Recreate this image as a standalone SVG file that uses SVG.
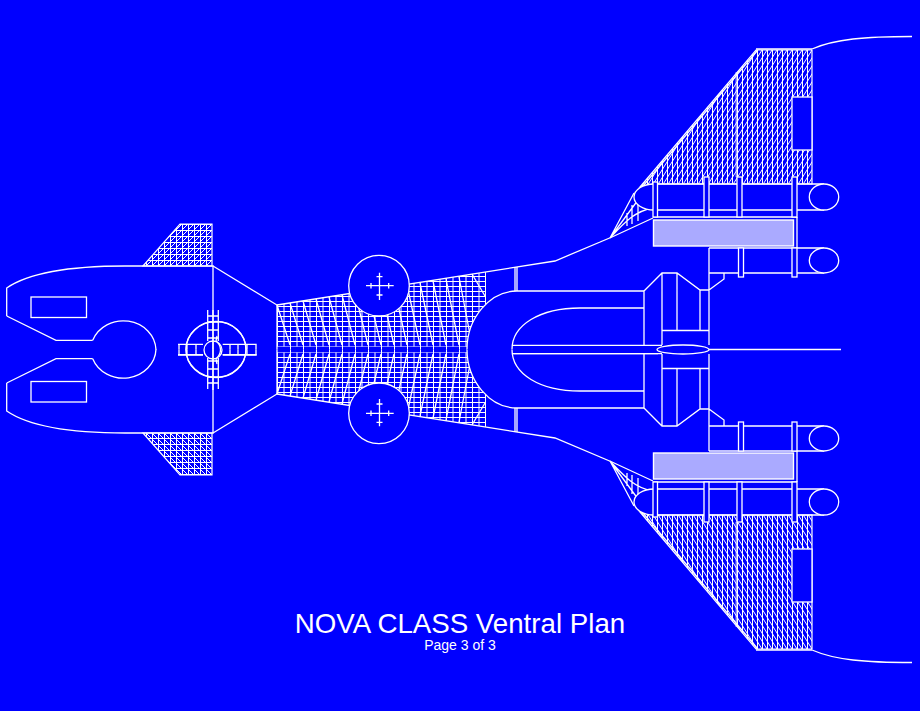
<svg xmlns="http://www.w3.org/2000/svg" width="920" height="711" viewBox="0 0 920 711">
<style>
.l{fill:none;stroke:#fff;stroke-width:1.3}
.b{fill:#00f;stroke:#fff;stroke-width:1.3}
.f{fill:#aaaaff;stroke:#fff;stroke-width:1.4}
.g{fill:none;stroke:#fff;stroke-width:1}
.t{fill:#fff;font-family:"Liberation Sans",Arial,sans-serif;text-anchor:middle}
</style>
<defs>
<clipPath id="midClip"><polygon points="277,305 486,272 486,346.500 277,346.500"/></clipPath>
<pattern id="wingHatch" patternUnits="userSpaceOnUse" x="757" y="50" width="5" height="8">
<rect width="5" height="8" fill="#00f"/>
<path d="M.5 0V8" stroke="#fff" stroke-width="1"/>
<path d="M0 8L5 0M-5 8L0 0M5 8L10 0" stroke="#fff" stroke-width="1"/>
</pattern>
<pattern id="foreHatch" patternUnits="userSpaceOnUse" x="212" y="266" width="6" height="6">
<rect width="6" height="6" fill="#00f"/>
<path d="M0 .5H6M.5 0V6" stroke="#fff" stroke-width="1"/>
<path d="M0 6L6 0" stroke="#fff" stroke-width="1"/>
</pattern>
<g id="half">
<polygon id="wing" points="640,187 756,50 812,50 812,184 653,184" fill="url(#wingHatch)" stroke="#fff" stroke-width="1.200"/>
<path class="l" d="M643 186L757 51M756 49H812"/>
<path d="M736.500 72V177" stroke="#fff" stroke-width="2" stroke-opacity=".6" fill="none"/>
<rect class="b" x="792" y="97" width="20" height="53"/>
<path class="l" d="M812 49C835 39 865 36.500 912 36.500"/>
<polygon id="foreWing" points="143,266 180,224 212,224 212,266" fill="url(#foreHatch)" stroke="#fff" stroke-width="1.200"/>
<g id="midHatch" clip-path="url(#midClip)">
<path class="g" d="M277 346.500H486M277 341.500H486M277 336.500H486M277 331.500H486M277 326.500H486M277 321.500H486M277 316.500H486M277 311.500H486M277 306.500H486M277 301.500H486M277 296.500H486M277 291.500H486M277 286.500H486M277 281.500H486M277 276.500H486M277 271.500H486"/>
<path class="g" d="M277.500 272V347M284 272V347M290.500 272V347M297 272V347M303.500 272V347M310 272V347M316.500 272V347M323 272V347M329.500 272V347M336 272V347M342.500 272V347M349 272V347M355.500 272V347M362 272V347M368.500 272V347M375 272V347M381.500 272V347M388 272V347M394.500 272V347M401 272V347M407.500 272V347M414 272V347M420.500 272V347M427 272V347M433.500 272V347M440 272V347M446.500 272V347M453 272V347M459.500 272V347M466 272V347M472.500 272V347M479 272V347M485.500 272V347"/>
</g>
<path class="l" d="M277 305L290 345M290 303L303 345M303 301L316 345M316 299L329 345M329 297L342 345M342 295L355 345M355 293L368 345M368 291L381 345M381 289L394 345M394 287L407 345M407 285L420 345M420 283L433 345M433 281L446 345M446 279L459 345M459 277L472 345M472 274L485 296"/>
<path class="g" d="M290.500 346V349.500M303.500 346V349.500M316.500 346V349.500M329.500 346V349.500M342.500 346V349.500M355.500 346V349.500M368.500 346V349.500M381.500 346V349.500M394.500 346V349.500M407.500 346V349.500M420.500 346V349.500M433.500 346V349.500M446.500 346V349.500M459.500 346V349.500"/>
<path fill="#00f" d="M517 260V349.500H467C467 318 490 291 517 291Z"/>
<path class="l" d="M6.700 316V288C30 272 75 266 125 266H213V349.500"/>
<path class="l" d="M6.700 316L56 340.300H92.700"/>
<path class="l" d="M92.700 340.300A32.700 30 0 0 1 156 349.700"/>
<rect class="l" x="31" y="297" width="55.500" height="20.500"/>
<path class="l" d="M213 266L277 305V349.500"/>
<path class="l" d="M277 305L555 261L612 237L653 218M612 237L600 242"/>
<path class="l" d="M610 238L634 193M610 238L638 200M610 238C625 222 635 211 653 208M627 213V226M632 205V224M638 200V221"/>
<g id="pod">
<circle class="b" cx="379" cy="285.700" r="30.300"/>
<path class="l" d="M366 285.700H393.700M379.500 272.700V300M371 283V288.500M388.700 283V288.500M376.500 276.700H382.500M376.500 295H382.500"/>
</g>
<g id="engineOuter">
<path class="b" d="M654 184A20 13 0 0 0 654 210"/>
<path class="l" d="M653 184H812M653 210H824M653 217H797M797 184H824M797 210H824"/>
<ellipse class="b" cx="824" cy="197" rx="14.700" ry="13"/>
<rect class="b" x="653" y="182" width="4.500" height="35"/>
<rect class="b" x="704" y="177" width="5" height="40"/>
<rect class="b" x="737" y="177" width="5" height="40"/>
<rect class="b" x="792" y="177" width="5" height="40"/>
<path class="l" d="M797 217V248"/>
<rect class="f" x="653.500" y="220" width="140" height="26"/>
</g>
<g id="engineInner">
<path class="l" d="M709 248H824M709 273H824M709 248V345M709 290L724 279V273"/>
<ellipse class="b" cx="824" cy="260.500" rx="14.700" ry="12.500"/>
<rect class="b" x="738.500" y="248" width="5" height="29"/>
<rect class="b" x="792" y="248" width="5" height="29"/>
</g>
<path class="l" d="M515 267V291M517 267V291"/>
<path class="l" d="M512 349.500C512 325 540 308 580 308H644M517 291H644M467 349.500C467 318 490 291 517 291"/>
<path class="l" d="M644 291V345.300L662 345.300M644 291L662 273H677L700 290H709M662 273V345M677 273V330.500M700 290V330.500M662 330.500H709M512 345.300H658"/>
<g id="hub">
<ellipse class="l" cx="216" cy="349.700" rx="30" ry="28"/>
<path class="l" d="M207.700 310V341M218.300 310V341M207.700 316H218.300M207.700 322H218.300M207.700 330H218.300M207.700 338H218.300M178 344.300H203M222.700 344.300H256.700M179 344.300V349.500M187 344.300V349.500M196 344.300V349.500M230 344.300V349.500M238 344.300V349.500M247 344.300V349.500M256 344.300V349.500"/>
</g>
</g>
</defs>
<rect width="920" height="711" fill="#00f"/>
<g id="upper"><use href="#half"/></g>
<g id="lower"><use href="#half" transform="matrix(1 0 0 -1 0 699)"/></g>
<g id="centre">
<circle class="l" cx="213" cy="350" r="9"/>
<path class="l" d="M213 310V390M216 341C222 346 222 353 216 359M216 341L217 336M216 359L217 364"/>
<path class="l" d="M178 355H203M222.700 355H256.700"/>
<path class="l" d="M512 353.700H658M709 349.500H841"/>
<ellipse class="b" cx="683" cy="349.500" rx="26" ry="4.500"/>
</g>
<text class="t" x="460" y="633" font-size="27.700">NOVA CLASS Ventral Plan</text>
<text class="t" x="460" y="650" font-size="14">Page 3 of 3</text>
</svg>
